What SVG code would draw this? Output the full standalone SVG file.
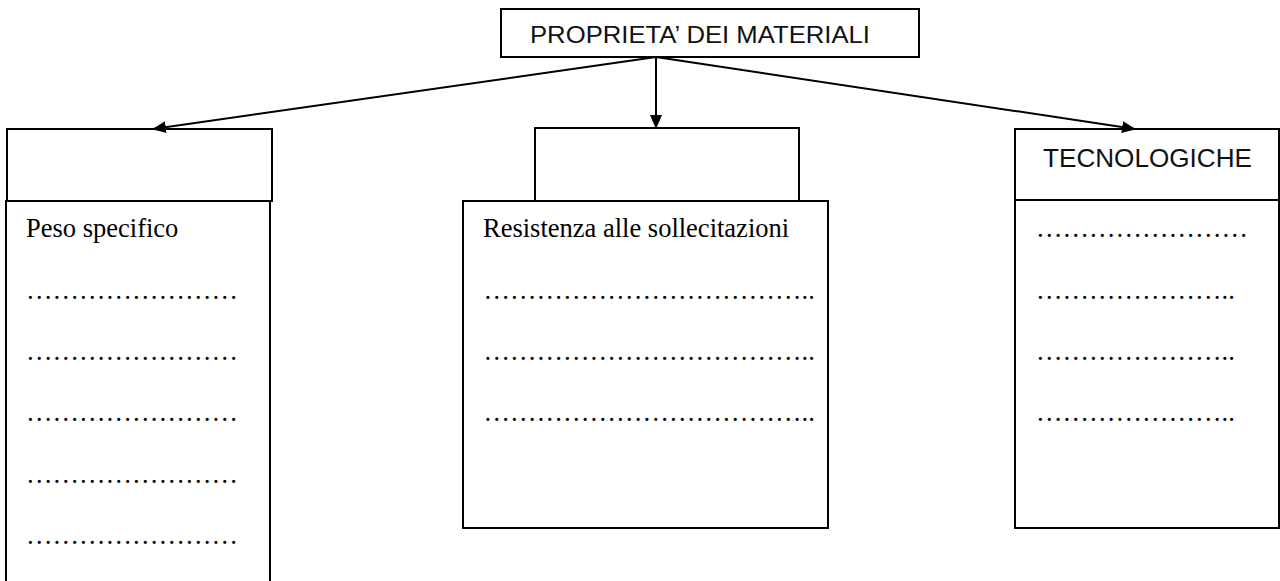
<svg xmlns="http://www.w3.org/2000/svg" width="1280" height="581" viewBox="0 0 1280 581">
<style>
.box{fill:#fff;stroke:#000;stroke-width:2}
.side{fill:none;stroke:#000;stroke-width:2}
.hdr{font-family:"Liberation Sans","DejaVu Sans",sans-serif;fill:#111}
.body{font-family:"Liberation Serif","Times New Roman",serif;font-size:26.5px;fill:#000}
.conn{stroke:#000;stroke-width:2;fill:none}
</style>
<defs>
<marker id="arr" markerWidth="14" markerHeight="12" refX="13" refY="6" orient="auto" markerUnits="userSpaceOnUse">
<path d="M0,0 L14,6 L0,12 Z" fill="#000"/>
</marker>
</defs>
<rect width="1280" height="581" fill="#fff"/>
<g id="root">
<rect class="box" x="501" y="9" width="418" height="48"/>
<text class="hdr" x="530" y="43" font-size="23" textLength="340" lengthAdjust="spacingAndGlyphs">PROPRIETA’ DEI MATERIALI</text>
</g>
<g id="left">
<rect class="box" x="7" y="129" width="265" height="72"/>
<path class="side" d="M6,585 L6,201 L270,201 L270,585"/>
<text class="body" x="26" y="237">Peso specifico</text>
<text class="body" x="26" y="298.5">……………………</text>
<text class="body" x="26" y="359.5">……………………</text>
<text class="body" x="26" y="420.5">……………………</text>
<text class="body" x="26" y="483">……………………</text>
<text class="body" x="26" y="543.5">……………………</text>
</g>
<g id="middle">
<rect class="box" x="535" y="128" width="264" height="73"/>
<rect class="box" x="463" y="201" width="365" height="327"/>
<text class="body" x="483" y="237">Resistenza alle sollecitazioni</text>
<text class="body" x="483.5" y="298.5">………………………………..</text>
<text class="body" x="483.5" y="359.5">………………………………..</text>
<text class="body" x="483.5" y="420.5">………………………………..</text>
</g>
<g id="right">
<rect class="box" x="1015" y="129" width="264" height="71"/>
<rect class="box" x="1015" y="200" width="264" height="328"/>
<text class="hdr" x="1043" y="167" font-size="25" textLength="209" lengthAdjust="spacingAndGlyphs">TECNOLOGICHE</text>
<text class="body" x="1036" y="236.5">……………………</text>
<text class="body" x="1036" y="298.5">…………………..</text>
<text class="body" x="1036" y="359.5">…………………..</text>
<text class="body" x="1036" y="420.5">…………………..</text>
</g>
<g id="connectors">
<line class="conn" x1="656" y1="57" x2="153" y2="129" marker-end="url(#arr)"/>
<line class="conn" x1="656" y1="57" x2="656" y2="128" marker-end="url(#arr)"/>
<line class="conn" x1="656" y1="57" x2="1135" y2="129" marker-end="url(#arr)"/>
</g>
</svg>
